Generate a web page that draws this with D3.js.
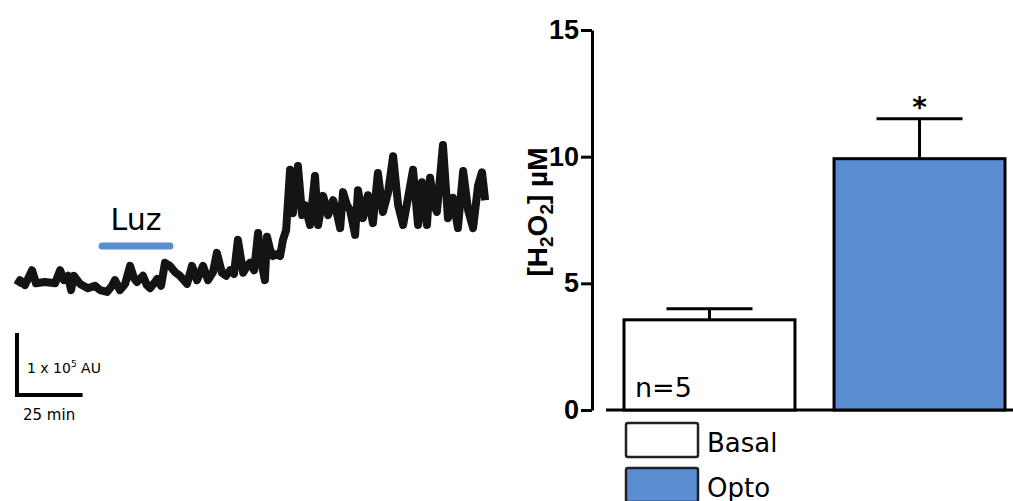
<!DOCTYPE html>
<html>
<head>
<meta charset="utf-8">
<script src="https://cdn.jsdelivr.net/npm/d3@7"></script>
<style>
  body { margin: 0; background: #fff; }
  svg { display: block; }
</style>
</head>
<body>
<div id="chart"></div>
<script>
// trace: time (min) and signal (x 10^5 AU)
var traceTime = [0.8, 1.9, 3.8, 6.5, 8.0, 11.4, 15.3, 17.2, 18.7, 20.2, 21.4, 22.5, 24.8, 27.8, 30.5, 32.4,
  35.1, 37.0, 38.1, 40.0, 42.0, 43.9, 45.4, 46.5, 48.8, 50.3, 51.5, 53.4, 54.2, 55.7, 57.2, 59.1,
  61.0, 62.9, 65.6, 67.5, 69.4, 71.7, 73.6, 75.5, 77.0, 78.9, 80.5, 82.0, 83.5, 85.0, 87.0, 88.5,
  89.6, 91.2, 92.7, 93.8, 95.3, 96.1, 97.3, 98.4, 99.9, 101.1, 102.2, 103.4, 104.9, 106.0, 107.9,
  109.5, 110.6, 112.5, 114.4, 115.6, 117.5, 119.4, 121.3, 122.8, 124.0, 125.1, 126.6, 127.8, 129.7,
  130.8, 132.7, 134.6, 136.5, 138.4, 140.3, 142.3, 144.2, 146.1, 148.0, 149.9, 151.8, 153.7, 155.2,
  157.1, 158.3, 159.8, 160.9, 163.2, 165.1, 167.0, 168.9, 170.9, 172.8, 174.7, 176.6, 178.1, 179.3];
var traceSignal = [0.24, 0.32, 0.24, 0.48, 0.27, 0.29, 0.27, 0.48, 0.32, 0.39, 0.16, 0.39, 0.26, 0.19, 0.23, 0.16,
  0.13, 0.23, 0.32, 0.16, 0.26, 0.55, 0.35, 0.29, 0.39, 0.24, 0.19, 0.29, 0.34, 0.23, 0.60, 0.55,
  0.45, 0.39, 0.26, 0.55, 0.32, 0.55, 0.32, 0.45, 0.76, 0.44, 0.39, 0.48, 0.42, 0.97, 0.44, 0.55,
  0.60, 0.48, 1.08, 0.65, 0.32, 1.02, 0.81, 0.71, 0.74, 0.71, 0.97, 1.13, 2.10, 1.40, 2.16,
  1.37, 1.53, 1.21, 2.00, 1.21, 1.68, 1.37, 1.61, 1.39, 1.16, 1.74, 1.53, 1.45, 1.05,
  1.77, 1.32, 1.69, 1.24, 2.05, 1.42, 1.74, 2.32, 1.53, 1.21, 1.65, 2.10, 1.21, 1.90,
  1.21, 1.97, 1.53, 1.42, 2.50, 1.32, 1.65, 1.16, 2.08, 1.45, 1.16, 1.85, 2.06, 1.61];
var lightOn = [33.2, 59.1];

// bar chart
var groups = ['Basal', 'Opto'];
var means = [3.56, 9.92];
var sems = [0.44, 1.58];
var yTicks = [0, 5, 10, 15];

var W = 1013, H = 501;
var blue = '#5b8dd3';

var svg = d3.select('#chart').append('svg')
  .attr('width', W).attr('height', H);

// ---- left trace ----
var xT = d3.scaleLinear().domain([0, 180]).range([15, 487]);
var yT = d3.scaleLinear().domain([0, 1]).range([300, 238]);

var pts = traceTime.map(function(t, i) { return [t, traceSignal[i]]; });
svg.append('path')
  .datum(pts)
  .attr('d', d3.line().x(function(d) { return xT(d[0]); }).y(function(d) { return yT(d[1]); }))
  .style('fill', 'none')
  .style('stroke', '#141414')
  .style('stroke-width', 8)
  .style('stroke-linejoin', 'round');

svg.append('line')
  .attr('x1', xT(lightOn[0])).attr('x2', xT(lightOn[1]))
  .attr('y1', 246).attr('y2', 246)
  .style('stroke', blue).style('stroke-width', 7).style('stroke-linecap', 'round');

svg.append('text')
  .attr('x', (xT(lightOn[0]) + xT(lightOn[1])) / 2).attr('y', 230)
  .attr('text-anchor', 'middle')
  .style('font-family', 'DejaVu Sans, sans-serif').style('font-size', '30px')
  .text('Luz');

// scale bar: 1 x 10^5 AU, 25 min
var sbX = 17, sbY = 395;
var sbH = yT(0) - yT(1), sbW = xT(25) - xT(0);
svg.append('path')
  .attr('d', 'M' + sbX + ',' + (sbY - sbH) + 'V' + sbY + 'H' + (sbX + sbW))
  .style('fill', 'none').style('stroke', '#000').style('stroke-width', 4);

var sbt = svg.append('text')
  .attr('x', 27).attr('y', 373)
  .style('font-family', 'DejaVu Sans, sans-serif').style('font-size', '14px');
sbt.append('tspan').text('1 x 10');
sbt.append('tspan').attr('dy', -6).style('font-size', '9px').text('5');
sbt.append('tspan').attr('dy', 6).text(' AU');

svg.append('text')
  .attr('x', 23).attr('y', 420)
  .style('font-family', 'DejaVu Sans, sans-serif').style('font-size', '15px')
  .text('25 min');

// ---- right bar chart ----
var y = d3.scaleLinear().domain([0, 15]).range([410, 30]);
var x = d3.scaleBand().domain(groups).range([624, 1005]).paddingInner(0.186).paddingOuter(0);

var yAxis = svg.append('g')
  .attr('transform', 'translate(592,0)')
  .call(d3.axisLeft(y).tickValues(yTicks).tickSize(11).tickPadding(2).tickSizeOuter(0));
yAxis.select('.domain').style('stroke-width', 3);
yAxis.selectAll('.tick line').style('stroke-width', 3);
yAxis.selectAll('.tick text')
  .style('font-family', 'Liberation Sans, Arial, sans-serif')
  .style('font-weight', 'bold').style('font-size', '27px').style('fill', '#000');

svg.append('text')
  .attr('transform', 'translate(547,212) rotate(-90)')
  .attr('text-anchor', 'middle')
  .style('font-family', 'Liberation Sans, Arial, sans-serif')
  .style('font-weight', 'bold').style('font-size', '28px')
  .call(function(t) {
    t.append('tspan').text('[H');
    t.append('tspan').attr('dy', 6).style('font-size', '19px').text('2');
    t.append('tspan').attr('dy', -6).text('O');
    t.append('tspan').attr('dy', 6).style('font-size', '19px').text('2');
    t.append('tspan').attr('dy', -6).text('] µM');
  });

// baseline
svg.append('line')
  .attr('x1', x.range()[0] - 18).attr('x2', W)
  .attr('y1', y(0)).attr('y2', y(0))
  .style('stroke', '#000').style('stroke-width', 3);

var bars = groups.map(function(g, i) { return { g: g, m: means[i], s: sems[i] }; });

// error bars
var capW = 86;
svg.selectAll('.err').data(bars).enter().append('path')
  .attr('d', function(d) {
    var cx = x(d.g) + x.bandwidth() / 2;
    return 'M' + cx + ',' + y(d.m) + 'V' + y(d.m + d.s) +
      'M' + (cx - capW / 2) + ',' + y(d.m + d.s) + 'H' + (cx + capW / 2);
  })
  .style('fill', 'none').style('stroke', '#000').style('stroke-width', 3);

svg.selectAll('.bar').data(bars).enter().append('rect')
  .attr('x', function(d) { return x(d.g); })
  .attr('y', function(d) { return y(d.m); })
  .attr('width', x.bandwidth())
  .attr('height', function(d) { return y(0) - y(d.m); })
  .style('fill', function(d, i) { return i === 0 ? '#fff' : blue; })
  .style('stroke', '#000').style('stroke-width', 3);

svg.append('text')
  .attr('x', x('Opto') + x.bandwidth() / 2).attr('y', y(means[1] + sems[1]) - 2)
  .attr('text-anchor', 'middle')
  .style('font-family', 'DejaVu Sans, sans-serif').style('font-weight', 'bold').style('font-size', '28px')
  .text('*');

svg.append('text')
  .attr('x', x('Basal') + 11).attr('y', 397)
  .style('font-family', 'DejaVu Sans, sans-serif').style('font-size', '27px')
  .text('n=5');

// legend
var leg = svg.selectAll('.leg').data(groups).enter().append('g')
  .attr('transform', function(d, i) { return 'translate(626,' + (423 + i * 45) + ')'; });
leg.append('rect')
  .attr('width', 72).attr('height', 34).attr('rx', 2)
  .style('fill', function(d, i) { return i === 0 ? '#fff' : blue; })
  .style('stroke', '#222').style('stroke-width', 2.5);
leg.append('text')
  .attr('x', 81).attr('y', 29)
  .style('font-family', 'DejaVu Sans, sans-serif').style('font-size', '26px')
  .text(function(d) { return d; });
</script>
</body>
</html>
